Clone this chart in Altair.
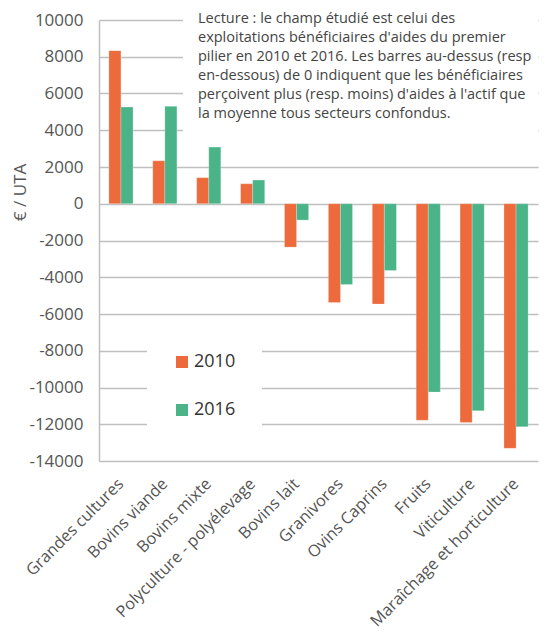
import altair as alt
import pandas as pd

categories = ["Grandes cultures", "Bovins viande", "Bovins mixte", "Polyculture - polyélevage",
              "Bovins lait", "Granivores", "Ovins Caprins", "Fruits", "Viticulture",
              "Maraîchage et horticulture"]
years = ["2010", "2016"]
values_2010 = [8330, 2340, 1420, 1090, -2360, -5370, -5460, -11780, -11900, -13310]
values_2016 = [5260, 5300, 3085, 1290, -890, -4390, -3630, -10250, -11270, -12140]
y_ticks = list(range(-14000, 10001, 2000))
note_lines = [
    "Lecture : le champ étudié est celui des",
    "exploitations bénéficiaires d'aides du premier",
    "pilier en 2010 et 2016. Les barres au-dessus (resp",
    "en-dessous) de 0 indiquent que les bénéficiaires",
    "perçoivent plus (resp. moins) d'aides à l'actif que",
    "la moyenne tous secteurs confondus.",
]
colors = ["#EC6A3B", "#4AB388"]

rows = []
for c, a, b in zip(categories, values_2010, values_2016):
    rows.append({"cat": c, "year": years[0], "val": a})
    rows.append({"cat": c, "year": years[1], "val": b})
df = pd.DataFrame(rows)

FONT = "Open Sans"
W, H = 439, 441

bars = alt.Chart(df).mark_bar(stroke="white", strokeWidth=0.4, strokeOpacity=0.6).encode(
    x=alt.X("cat:N", sort=categories,
            scale=alt.Scale(paddingInner=0.45, paddingOuter=0.225),
            axis=alt.Axis(title=None, labelAngle=-45, labelAlign="right",
                          labelBaseline="middle", domain=False, ticks=False,
                          labelPadding=20, labelFontSize=16.3,
                          labelColor="#555555", labelFont=FONT, labelLimit=400)),
    xOffset=alt.XOffset("year:N", sort=years),
    y=alt.Y("val:Q", scale=alt.Scale(domain=[-14000, 10000], nice=False),
            axis=alt.Axis(values=y_ticks, labelExpr="toString(datum.value)", title="€ / UTA",
                          titleFontSize=17, titleFont=FONT, titleFontWeight="normal",
                          titleColor="#555555", titleX=-70, titleY=172,
                          labelFontSize=17, labelFont=FONT, labelColor="#555555",
                          ticks=False, labelPadding=16, domainColor="#BFBFBF",
                          domainWidth=1.5, gridColor="#BFBFBF", gridWidth=1.4)),
    color=alt.Color("year:N", sort=years, scale=alt.Scale(domain=years, range=colors),
                    legend=alt.Legend(orient="none", legendX=48, legendY=307, title=None,
                                      fillColor="white", padding=26, rowPadding=30,
                                      symbolType="square", symbolSize=144,
                                      symbolStrokeWidth=0, labelFontSize=18,
                                      labelFont=FONT, labelColor="#333333",
                                      labelOffset=3)),
)

note_df = pd.DataFrame({"t": [note_lines]})
cover = alt.Chart(note_df).mark_rect(color="white").encode(
    x=alt.value(84), x2=alt.value(W), y=alt.value(-12), y2=alt.value(120)
)
note = alt.Chart(note_df).mark_text(
    align="left", baseline="middle", fontSize=14.5, font=FONT, color="#444444",
    lineHeight=19
).encode(x=alt.value(99), y=alt.value(-1), text="t")

chart = alt.layer(bars, cover, note).properties(
    width=W, height=H,
    autosize=alt.AutoSizeParams(type="none"),
    padding={"left": 91, "top": 12, "right": 4, "bottom": 170},
).configure_view(stroke=None).configure_axisX(grid=False)

chart.save("out.html", embed_options={"renderer": "svg", "actions": False})
